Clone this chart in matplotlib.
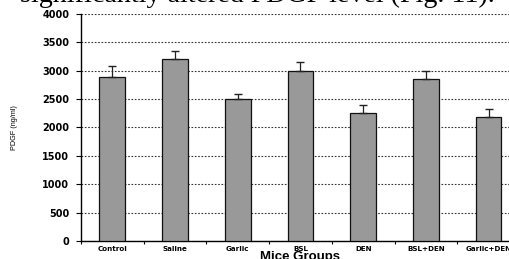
import matplotlib
matplotlib.use("Agg")
import matplotlib.pyplot as plt
import numpy as np

groups = ["Control", "Saline", "Garlic", "BSL", "DEN", "BSL+DEN", "Garlic+DEN"]
pdgf = [2891, 3208, 2504, 2991, 2257, 2845, 2187]
pdgf_err = [188, 141, 77, 153, 141, 152, 130]
yticks = [0, 500, 1000, 1500, 2000, 2500, 3000, 3500, 4000]

fig = plt.figure(figsize=(5.09, 2.59), dpi=100)
ax = fig.add_axes([0.1591, 0.0699, 0.8625, 0.877])

x = np.arange(len(groups))
ax.bar(x, pdgf, width=0.41, color="#999999", edgecolor="#111111", linewidth=0.9, zorder=3)
ax.errorbar(x, pdgf, yerr=[np.zeros(len(pdgf)), pdgf_err], fmt="none",
            ecolor="#222222", elinewidth=0.9, capsize=3, capthick=1.0, zorder=4)

ax.set_xlim(-0.5, len(groups) - 0.5)
ax.set_ylim(0, 4000)
ax.set_yticks(yticks)
ax.set_yticklabels([str(v) for v in yticks], fontsize=7, fontweight="bold", family="DejaVu Sans")
ax.set_xticks(x)
ax.set_xticklabels(groups, fontsize=5.1, fontweight="bold", family="DejaVu Sans")
ax.set_xticks(np.arange(len(groups) + 1) - 0.5, minor=True)
ax.tick_params(axis="x", which="major", length=0, pad=3.5)
ax.tick_params(axis="x", which="minor", length=2.5, width=0.8, direction="out")
ax.tick_params(axis="y", length=3.5, width=0.8, direction="out", pad=5)

ax.yaxis.grid(True, linestyle=(0, (1.5, 1.5)), color="#333333", linewidth=0.8, zorder=0)
ax.set_axisbelow(True)

for s in ["top", "right"]:
    ax.spines[s].set_visible(False)
ax.spines["left"].set_linewidth(1.0)
ax.spines["bottom"].set_linewidth(1.0)

ax.set_ylabel("PDGF (ng/ml)", fontsize=5.2, family="Liberation Sans")
ax.yaxis.set_label_coords(-0.143, 0.5)
ax.set_xlabel("Mice Groups", fontsize=9.5, fontweight="bold", family="Liberation Sans", labelpad=0)
ax.xaxis.set_label_coords(0.5, -0.045)

fig.text(0.039, 0.992, "significantly altered PDGF level (Fig. 11).", fontsize=20.2,
         family="Liberation Serif", va="baseline", ha="left")

fig.savefig("out.png", dpi=100)
